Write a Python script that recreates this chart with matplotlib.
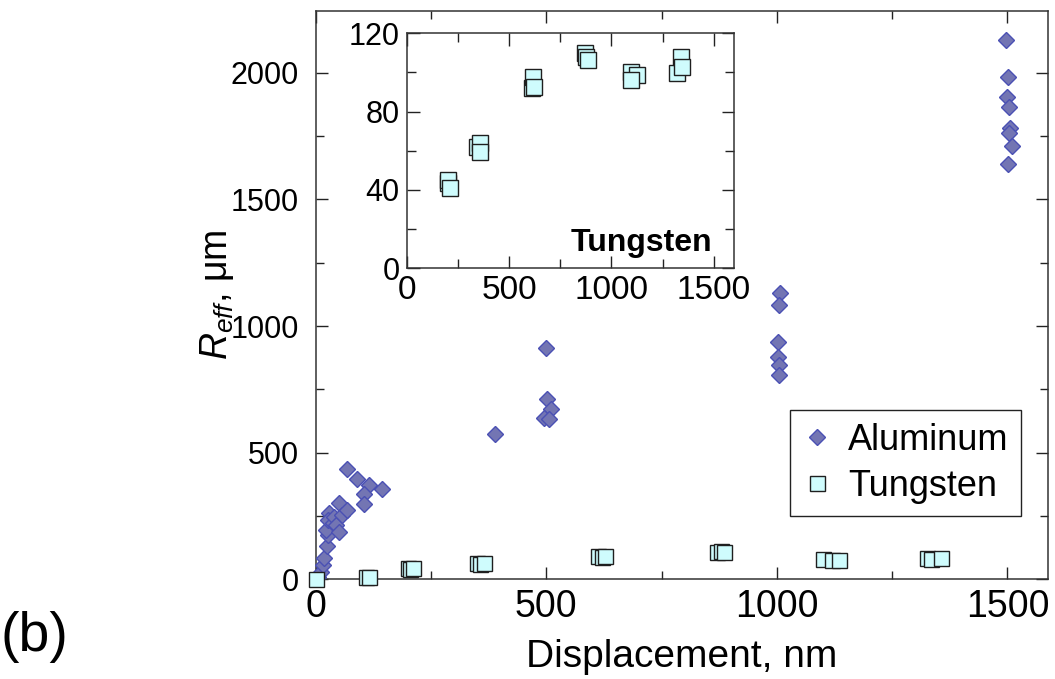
import numpy as np
import matplotlib
matplotlib.use('Agg')
from matplotlib import pyplot as plt
from matplotlib.ticker import MultipleLocator

plt.rcParams['font.family'] = ['Liberation Sans', 'DejaVu Sans']
plt.rcParams['mathtext.fontset'] = 'custom'
plt.rcParams['mathtext.it'] = 'Liberation Sans:italic'
plt.rcParams['mathtext.rm'] = 'Liberation Sans'

###########################################################
# main panel, Aluminum
al_x = [5, 11, 15, 19, 24, 26, 22, 30, 26, 37, 40, 45, 51, 58, 69, 51,
        68, 89, 115, 104, 104, 143,
        388,
        500, 501, 511, 495, 505,
        1006, 1004, 1002, 1002, 1004, 1004,
        1497, 1501, 1500, 1504, 1506, 1503, 1510, 1501]
al_y = [10, 30, 56, 83, 130, 175, 195, 260, 234, 221, 247, 215, 300, 254, 274, 188,
        434, 396, 372, 335, 296, 355,
        574,
        913, 712, 671, 636, 632,
        1130, 1082, 937, 876, 846, 806,
        2128, 1984, 1903, 1863, 1780, 1761, 1711, 1640]

# main panel, Tungsten
w_x = [0, 110, 115, 200, 205, 212, 350, 357, 365, 612, 620, 628,
       870, 878, 885, 1100, 1120, 1135, 1325, 1335, 1355]
w_y = [0, 10, 8, 45, 42, 44, 63, 60, 64, 93, 90, 94,
       108, 110, 106, 80, 78, 78, 83, 80, 85]

# inset, Tungsten only
wi_x = [200, 203, 211, 344, 357, 357, 612, 617, 622,
        869, 877, 885, 1096, 1123, 1096, 1318, 1339, 1344]
wi_y = [43.4, 45, 40.8, 62, 63.8, 59.6, 92, 97.9, 92.7,
        109.8, 108, 106.4, 100.4, 98.7, 96.2, 99.6, 108, 103]

al_face = '#7375b3'
al_edge = '#4a50b4'
w_face = '#cffcfd'
w_edge = '#1f1f1f'

my_dpi = 100
fig = plt.figure(figsize=(1055/my_dpi, 679/my_dpi), dpi=my_dpi)

ax = fig.add_axes([0.2992, 0.1468, 0.6942, 0.8374])
ax.plot(al_x, al_y, 'D', ms=8.4, mfc=al_face, mec=al_edge, mew=1.0,
        label='Aluminum', clip_on=False, zorder=3)
ax.plot(w_x, w_y, 's', ms=10.8, mfc=w_face, mec=w_edge, mew=1.0,
        label='Tungsten', clip_on=False, zorder=4)
ax.set_xlim(0, 1588)
ax.set_ylim(0, 2245)
ax.xaxis.set_major_locator(MultipleLocator(500))
ax.xaxis.set_minor_locator(MultipleLocator(250))
ax.yaxis.set_major_locator(MultipleLocator(500))
ax.yaxis.set_minor_locator(MultipleLocator(250))
ax.tick_params(which='both', direction='in', top=True, right=True,
               width=1.0, color='#222222')
ax.tick_params(which='major', length=8.6, pad=7)
ax.tick_params(which='minor', length=5.8)
ax.tick_params(axis='x', labelsize=27)
ax.tick_params(axis='y', which='major', labelsize=22, pad=12)
for sp in ax.spines.values():
    sp.set_linewidth(1.1)
    sp.set_color('#333333')
ax.set_xlabel('Displacement, nm', fontsize=28, labelpad=10)
ax.set_ylabel(r'$\mathit{R}_{\mathit{eff}}$, μm', fontsize=27)
ax.yaxis.set_label_coords(-0.109, 0.5)

leg = ax.legend(loc='lower right', bbox_to_anchor=(0.963, 0.111), fontsize=26,
                markerscale=1.0, frameon=True, fancybox=False, framealpha=1,
                handlelength=0.8, handletextpad=0.45, labelspacing=0.3,
                borderpad=0.35, borderaxespad=0)
leg.get_frame().set_edgecolor('#222222')
leg.get_frame().set_linewidth(1.0)

fig.text(0.0, 0.062, '(b)', fontsize=40, ha='left', va='center')

# inset
axin = fig.add_axes([0.3855, 0.6049, 0.3105, 0.3461])
axin.plot(wi_x, wi_y, 's', ms=11, mfc=w_face, mec=w_edge, mew=1.0, zorder=3)
axin.set_xlim(0, 1600)
axin.set_ylim(0, 120)
axin.xaxis.set_major_locator(MultipleLocator(500))
axin.xaxis.set_minor_locator(MultipleLocator(250))
axin.yaxis.set_major_locator(MultipleLocator(40))
axin.yaxis.set_minor_locator(MultipleLocator(20))
axin.tick_params(which='both', direction='in', top=True, right=True,
                 width=1.0, color='#222222')
axin.tick_params(which='major', length=9, pad=5)
axin.tick_params(which='minor', length=6.5)
axin.tick_params(axis='x', labelsize=24)
axin.tick_params(axis='y', labelsize=22)
for sp in axin.spines.values():
    sp.set_linewidth(1.1)
    sp.set_color('#333333')
axin.text(0.932, 0.045, 'Tungsten', transform=axin.transAxes, fontsize=23,
          fontweight='bold', ha='right', va='bottom')

plt.savefig('out.png', dpi=my_dpi)
